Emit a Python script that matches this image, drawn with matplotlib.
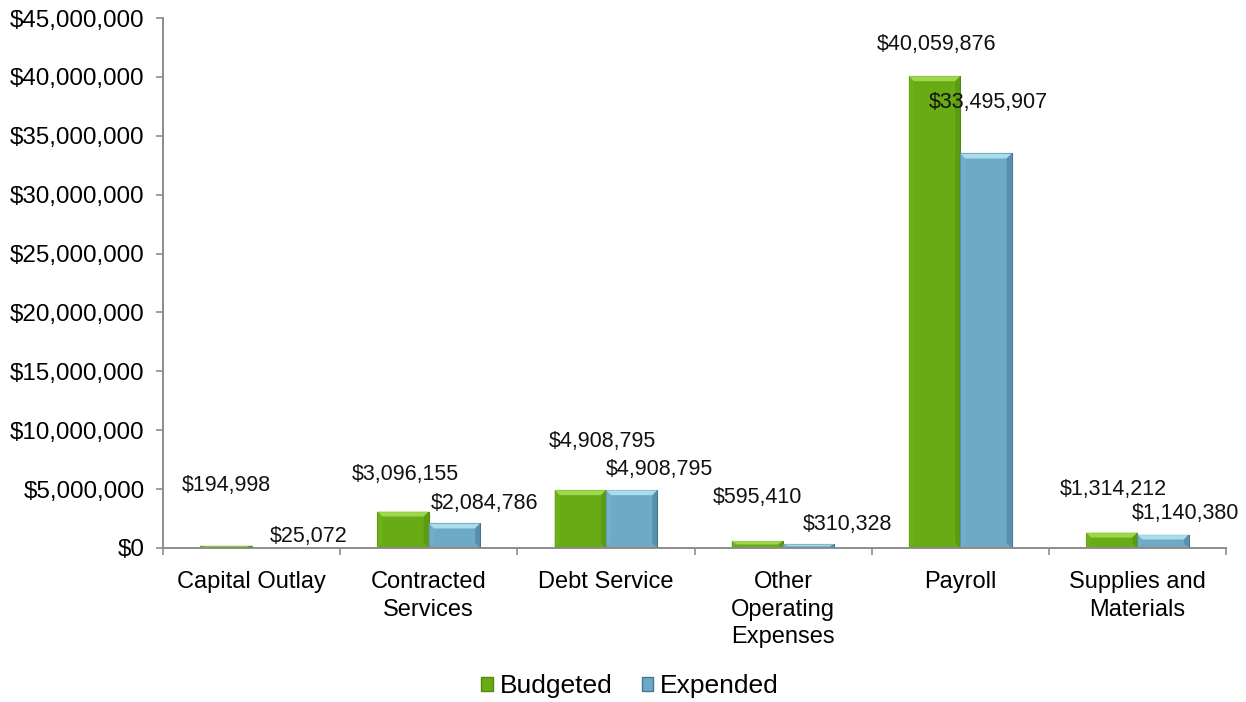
import matplotlib
matplotlib.use("Agg")
import matplotlib.pyplot as plt
from matplotlib.patches import Polygon, Patch
from matplotlib.ticker import FuncFormatter
import numpy as np

plt.rcParams["font.family"] = ["Liberation Sans", "DejaVu Sans"]

categories = ["Capital Outlay", "Contracted\nServices", "Debt Service",
              "Other\nOperating\nExpenses", "Payroll", "Supplies and\nMaterials"]
budgeted = [194998, 3096155, 4908795, 595410, 40059876, 1314212]
expended = [25072, 2084786, 4908795, 310328, 33495907, 1140380]

# label nudges in pixels (dx, dy above bar top)
bud_off = [(0, 60), (2, 37), (22, 49), (0, 43), (2, 32), (2, 43)]
exp_off = [(31, 11), (30, 20), (28, 21), (39, 20), (2, 51), (22, 21)]

green = dict(face="#68ab15", light="#a3dc52", dark="#4f8a10", side="#72b61e")
blue = dict(face="#6eaac6", light="#b0e2f2", dark="#46768f", side="#78b4cf")

fig = plt.figure(figsize=(12.46, 7.02), dpi=100)
ax = fig.add_axes([163 / 1246, 1 - 548 / 702, 1063 / 1246, 530 / 702])

x = np.arange(len(categories))
w = 0.29
b1 = ax.bar(x - w / 2, budgeted, w, color=green["face"], edgecolor=green["dark"], linewidth=0.8, zorder=2)
b2 = ax.bar(x + w / 2, expended, w, color=blue["face"], edgecolor=blue["dark"], linewidth=0.8, zorder=2)

ax.set_xlim(-0.5, len(categories) - 0.5)
ax.set_ylim(0, 45000000)
ax.set_yticks(np.arange(0, 45000001, 5000000))
ax.yaxis.set_major_formatter(FuncFormatter(lambda v, p: "${:,.0f}".format(v)))

# bevel effect
px_x = 1.0 / 177.2
px_y = 45000000 / 530.0


def bevel(bars, c):
    for r in bars:
        x0, y0 = r.get_x(), r.get_y()
        bw, bh = r.get_width(), r.get_height()
        bx = 5 * px_x
        by = min(5 * px_y, bh / 2)
        x1, y1 = x0 + bw, y0 + bh
        polys = [
            ([(x0, y1), (x1, y1), (x1 - bx, y1 - by), (x0 + bx, y1 - by)], c["light"], 0.9),
            ([(x1, y1), (x1, y0), (x1 - bx, y0 + by), (x1 - bx, y1 - by)], c["dark"], 0.5),
            ([(x0, y1), (x0, y0), (x0 + bx, y0 + by), (x0 + bx, y1 - by)], c["side"], 0.6),
        ]
        for pts, col, a in polys:
            ax.add_patch(Polygon(pts, closed=True, facecolor=col, edgecolor="none", alpha=a, zorder=3))


bevel(b1, green)
bevel(b2, blue)

for bars, vals, offs in [(b1, budgeted, bud_off), (b2, expended, exp_off)]:
    for r, v, (dx, dy) in zip(bars, vals, offs):
        ax.annotate("${:,.0f}".format(v), (r.get_x() + r.get_width() / 2, r.get_height()),
                    xytext=(dx * 0.72, dy * 0.72), textcoords="offset points",
                    ha="center", va="center", fontsize=15.5, color="#111111")

# axes styling
for s in ["top", "right"]:
    ax.spines[s].set_visible(False)
for s in ["left", "bottom"]:
    ax.spines[s].set_color("#8c8c8c")
    ax.spines[s].set_linewidth(1.4)

ax.set_xticks(np.arange(-0.5, len(categories), 1.0))
ax.set_xticklabels([])
ax.set_xticks(x, minor=True)
ax.set_xticklabels(categories, minor=True, fontsize=17, linespacing=1.33, va="top")
ax.tick_params(axis="x", which="major", length=5, width=1.2, color="#8c8c8c", direction="out")
ax.tick_params(axis="x", which="minor", length=0, pad=16.5)
ax.tick_params(axis="y", length=5, width=1.2, color="#8c8c8c", direction="out", pad=8.4, labelsize=17.4)

handles = [Patch(facecolor=green["face"], edgecolor=green["dark"], label="Budgeted"),
           Patch(facecolor=blue["face"], edgecolor=blue["dark"], label="Expended")]
fig.legend(handles=handles, loc="center", bbox_to_anchor=(630 / 1246, 1 - 686 / 702), ncol=2,
           frameon=False, fontsize=19, handlelength=0.45, handleheight=0.45,
           handletextpad=0.25, columnspacing=1.1)

fig.savefig("out.png", dpi=100)
